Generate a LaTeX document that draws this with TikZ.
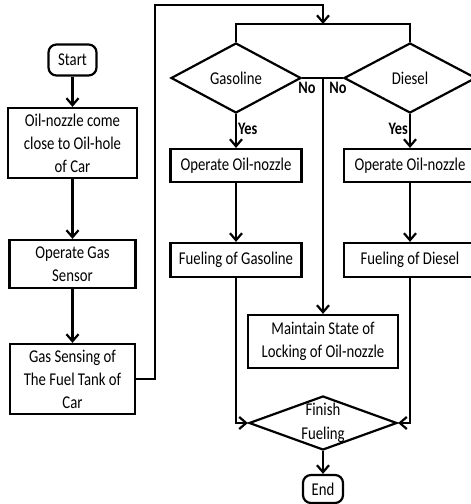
\documentclass[tikz,border=0pt]{standalone}
\usepackage{fontspec}
\setmainfont[FakeStretch=0.82]{Carlito}
\usepackage{tikz}
\usetikzlibrary{shapes.geometric,arrows.meta}

\begin{document}
\begin{tikzpicture}[x=1pt, y=1pt, node distance=80pt, line width=2.2pt,
    >={Straight Barb[length=7pt,width=12pt]}]
    \tikzstyle{box} = [rectangle, draw, align=center, inner sep=2pt, font=\fontsize{18}{23}\selectfont]
    \tikzstyle{term} = [box, rounded corners=8pt, minimum width=48pt, minimum height=31pt]
    \tikzstyle{check} = [diamond, draw, aspect=1.86, inner sep=0pt, text centered, font=\fontsize{18}{23}\selectfont]
    \tikzstyle{lbl} = [font=\bfseries\fontsize{17.5}{18}\selectfont, inner sep=1pt]
    \useasboundingbox (0,0) rectangle (471,504);

    % Left column
    \node [term] (start) at (72.5,444) {Start};
    \node [box, below of=start, yshift=-3pt, minimum width=129pt, minimum height=70pt] (approach) {Oil-nozzle come\\close to Oil-hole\\of Car};
    \node [box, below of=approach, yshift=-41pt, minimum width=126pt, minimum height=48pt] (sensor) {Operate Gas\\Sensor};
    \node [box, below of=sensor, yshift=-35pt, minimum width=125pt, minimum height=70pt] (sensing) {Gas Sensing of\\The Fuel Tank of\\Car};

    % Fuel type checks
    \coordinate (split) at (323,480);
    \node [check, minimum width=130pt, minimum height=70pt] (gasoline) at (236,426) {Gasoline};
    \node [check, minimum width=132pt, minimum height=70pt, right of=gasoline, xshift=94pt] (diesel) {Diesel};
    \node [box, below of=gasoline, yshift=-7.5pt, minimum width=131pt, minimum height=33pt] (nozzle_gas) {Operate Oil-nozzle};
    \node [box, below of=nozzle_gas, yshift=-14.5pt, minimum width=131pt, minimum height=34pt] (fuel_gas) {Fueling of Gasoline};
    \node [box, below of=diesel, yshift=-7.5pt, minimum width=132pt, minimum height=33pt] (nozzle_die) {Operate Oil-nozzle};
    \node [box, below of=nozzle_die, yshift=-14.5pt, minimum width=132pt, minimum height=34pt] (fuel_die) {Fueling of Diesel};

    % Finish
    \node [box, minimum width=150pt, minimum height=53pt] (locking) at (323,162.5) {Maintain State of\\Locking of Oil-nozzle};
    \node [check, below of=locking, yshift=-1.5pt, minimum width=148pt, minimum height=54pt] (finish) {};
    \node [font=\fontsize{18}{24}\selectfont, align=center] (finish_txt) at (finish) {Finish\\Fueling};
    \node [term, below of=finish, yshift=14pt, minimum width=40pt, minimum height=28pt] (end) {End};

    % Arrows
    \draw [->] (start) -- (approach);
    \draw [->] (approach) -- (sensor);
    \draw [->] (sensor) -- (sensing);
    \draw [->] (sensing.east) -- ++(19,0) |- ([yshift=19pt]split) -- (split);
    \draw (gasoline.north) |- (split) -| (diesel.north);
    \draw [->] (gasoline.south) -- node[lbl, right, pos=0.45] {Yes} (nozzle_gas);
    \draw [->] (diesel.south) -- node[lbl, left, pos=0.45] {Yes} (nozzle_die);
    \draw [->] (nozzle_gas) -- (fuel_gas);
    \draw [->] (nozzle_die) -- (fuel_die);
    \draw (gasoline.east) -- node[lbl, below=2pt, pos=0.12] {No} (diesel.west);
    \draw (gasoline.east) -- node[lbl, below=2pt, pos=0.88] {No} (diesel.west);
    \coordinate (no_split) at (gasoline.east -| split);
    \draw [->] (no_split) -- (locking);
    \draw [->] (fuel_gas.south) |- (finish.west);
    \draw [->] (fuel_die.south) |- (finish.east);
    \draw [->] (finish) -- (end);
\end{tikzpicture}
\end{document}
